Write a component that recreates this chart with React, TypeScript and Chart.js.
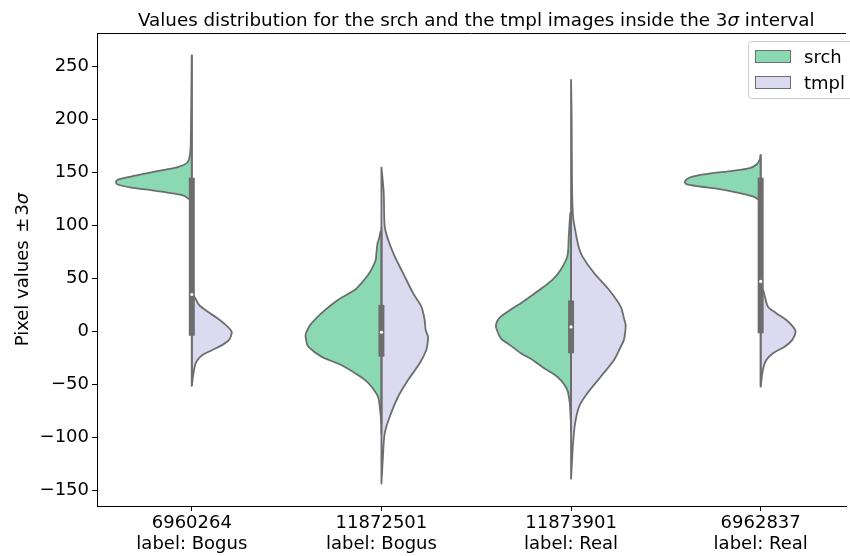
import { useEffect, useRef } from 'react';
import { Chart, registerables } from 'chart.js';

Chart.register(...registerables);

// Stamps on the x axis and the label of each one
const CATEGORIES = ['6960264', '11872501', '11873901', '6962837'];
const CLASS_LABELS = ['Bogus', 'Bogus', 'Real', 'Real'];

const Y_TICKS = [-150, -100, -50, 0, 50, 100, 150, 200, 250];

// Kernel density profiles, [pixel value, relative density], top to bottom
const SRCH_6960264 = [
  [261, 0], [180.8, 0.013], [168.3, 0.022], [159.4, 0.057], [155.1, 0.189], [152.5, 0.364],
  [149.4, 0.583], [146.2, 0.8], [143.1, 0.978], [141, 1.0], [138.7, 0.978], [135.8, 0.8],
  [133, 0.496], [130.6, 0.276], [128, 0.1], [124.9, 0.035],
];
const TMPL_6960264 = [
  [33, 0.031], [25.2, 0.096], [18.9, 0.206], [12.6, 0.338], [6.3, 0.447], [1.6, 0.513],
  [-1.5, 0.526], [-7.8, 0.491], [-12.5, 0.404], [-17.3, 0.272], [-22, 0.14], [-26.7, 0.075],
  [-31.4, 0.044], [-39.2, 0.022], [-51.2, 0],
];
const SRCH_11872501 = [
  [94.5, 0.01], [88, 0.03], [83.6, 0.05], [75, 0.065], [67.8, 0.075], [60, 0.12], [53.6, 0.175],
  [46, 0.26], [39.4, 0.35], [30, 0.57], [17.4, 0.79], [8, 0.92], [3.2, 0.965], [-3.1, 1.0],
  [-9, 0.99], [-14.2, 0.965], [-23.6, 0.79], [-31.5, 0.53], [-40.9, 0.31], [-46, 0.21],
  [-52, 0.13], [-61.4, 0.045], [-70.9, 0.022], [-86.6, 0],
];
const TMPL_11872501 = [
  [155.4, 0], [130.8, 0.03], [99.2, 0.043], [86.7, 0.088], [70.9, 0.175], [55.2, 0.285],
  [36.3, 0.417], [23.6, 0.526], [11.1, 0.57], [1.6, 0.583], [-4.7, 0.614], [-10, 0.61],
  [-17.3, 0.592], [-29.9, 0.504], [-45.7, 0.351], [-61.4, 0.22], [-80.3, 0.109], [-96, 0.043],
  [-115, 0.022], [-143.3, 0],
];
const SRCH_11873901 = [
  [111.9, 0.009], [90, 0.03], [70.9, 0.049], [58.3, 0.136], [50, 0.23], [42.5, 0.355],
  [35, 0.5], [26.8, 0.662], [20.5, 0.8], [12.7, 0.947], [6.3, 0.99], [2, 0.98], [-6.3, 0.925],
  [-13, 0.8], [-20.4, 0.662], [-27, 0.5], [-34.6, 0.355], [-40, 0.23], [-45.7, 0.136],
  [-55.1, 0.049], [-67.7, 0.017], [-83.5, 0.004],
];
const TMPL_11873901 = [
  [237.9, 0], [200, 0.008], [137, 0.013], [108.7, 0.026], [93, 0.062], [80, 0.1], [70.9, 0.149],
  [55.2, 0.303], [39.4, 0.5], [23.6, 0.654], [12.7, 0.697], [6.3, 0.72], [0, 0.715],
  [-7.8, 0.697], [-15, 0.65], [-26.7, 0.566], [-42.5, 0.391], [-58.2, 0.214], [-70.9, 0.105],
  [-86.6, 0.053], [-105.5, 0.026], [-121.3, 0.013], [-138.6, 0],
];
const SRCH_6962837 = [
  [167, 0], [162, 0.013], [157.3, 0.057], [154.2, 0.145], [151.6, 0.364], [148.5, 0.715],
  [145.3, 0.934], [141.5, 1.0], [139, 0.978], [136.8, 0.8], [134.3, 0.54], [130.6, 0.276],
  [127.4, 0.1], [124.9, 0.035],
];
const TMPL_6962837 = [
  [39.3, 0.031], [23.6, 0.096], [17.4, 0.206], [11, 0.338], [4.7, 0.425], [0, 0.46],
  [-7.8, 0.417], [-14.2, 0.316], [-20.4, 0.162], [-26.7, 0.075], [-33, 0.039], [-39.2, 0.022],
  [-51.9, 0],
];

const SRCH_PROFILES = [SRCH_6960264, SRCH_11872501, SRCH_11873901, SRCH_6962837];
const TMPL_PROFILES = [TMPL_6960264, TMPL_11872501, TMPL_11873901, TMPL_6962837];

// Inner box plot statistics of the pooled values
const Q1 = [-3.8, -23.6, -20.4, -1.5];
const MEDIAN = [35, -0.6, 4.4, 47.3];
const Q3 = [145, 25.2, 29.3, 145];
const WHISKER_LOW = [-51.3, -96.8, -95, -52];
const WHISKER_HIGH = [261, 98.4, 103.9, 167];

const FONT = "'DejaVu Sans', sans-serif";
const SRCH_COLOR = '#8bd9b3';
const TMPL_COLOR = '#dcdaf0';
const LINE_GREY = '#6d6d6d';
const HALF_WIDTH = 0.4;

// One half of a split violin as a closed outline in data units.
// The corners on the centre line are doubled so the smoothed curve keeps that edge straight.
function halfViolin(center: number, profile: number[][], side: number) {
  const top = profile[0][0];
  const bottom = profile[profile.length - 1][0];
  const edge = profile.map(([v, d]) => ({ x: center + side * d * HALF_WIDTH, y: v }));
  const t = { x: center, y: top };
  const b = { x: center, y: bottom };
  return [t, t, ...edge, b, b, t, t];
}

function formatTick(v: number) {
  return v < 0 ? '\u2212' + Math.abs(v) : String(v);
}

// Draws a run of text pieces [text, italic, gap after], centred on x = 0
function drawPieces(ctx: CanvasRenderingContext2D, pieces: [string, boolean, number][], size: number) {
  const fontOf = (it: boolean) => `${it ? 'italic ' : ''}${size}px ${FONT}`;
  let total = 0;
  const widths = pieces.map(([t, it, gap]) => {
    ctx.font = fontOf(it);
    const w = ctx.measureText(t).width + gap;
    total += w;
    return w;
  });
  let x = -total / 2;
  ctx.textAlign = 'left';
  ctx.textBaseline = 'alphabetic';
  pieces.forEach(([t, it], i) => {
    ctx.font = fontOf(it);
    ctx.fillText(t, x, 0);
    x += widths[i];
  });
}

const decorations = {
  id: 'decorations',
  afterDraw(chart: any) {
    const { ctx, chartArea, scales } = chart;
    ctx.save();
    // top spine
    ctx.strokeStyle = '#000';
    ctx.lineWidth = 1;
    ctx.beginPath();
    ctx.moveTo(chartArea.left, chartArea.top + 0.5);
    ctx.lineTo(chartArea.right, chartArea.top + 0.5);
    ctx.stroke();

    ctx.fillStyle = '#000';
    // title, centred on the axes
    ctx.save();
    ctx.translate(scales.x.getPixelForValue(1.5), 25.7);
    drawPieces(ctx, [
      ['Values distribution for the srch and the tmpl images inside the 3', false, 0],
      ['\u03c3', true, 0],
      [' interval', false, 0],
    ], 18.3);
    ctx.restore();

    // y axis title
    ctx.save();
    ctx.translate(28.3, (chartArea.top + chartArea.bottom) / 2);
    ctx.rotate(-Math.PI / 2);
    drawPieces(ctx, [
      ['Pixel values ', false, 2],
      ['\u00b1', false, 2],
      ['3', false, 0],
      ['\u03c3', true, 0],
    ], 18);
    ctx.restore();

    // legend
    const lx = 748.5;
    const ly = 41.5;
    ctx.fillStyle = 'rgba(255,255,255,0.8)';
    ctx.strokeStyle = '#cccccc';
    ctx.lineWidth = 1;
    ctx.beginPath();
    ctx.roundRect(lx, ly, 130, 57, 3);
    ctx.fill();
    ctx.stroke();
    const entries: [string, string][] = [['srch', SRCH_COLOR], ['tmpl', TMPL_COLOR]];
    entries.forEach(([name, color], i) => {
      const py = 50.5 + i * 26;
      ctx.fillStyle = color;
      ctx.fillRect(755.5, py, 35, 12);
      ctx.strokeStyle = LINE_GREY;
      ctx.lineWidth = 1;
      ctx.strokeRect(755.5, py, 35, 12);
      ctx.fillStyle = '#000';
      ctx.font = `18px ${FONT}`;
      ctx.textAlign = 'left';
      ctx.textBaseline = 'alphabetic';
      ctx.fillText(name, 804, 63.3 + i * 26);
    });
    ctx.restore();
  },
};

export default function App() {
  const canvasRef = useRef<HTMLCanvasElement>(null);

  useEffect(() => {
    const datasets: any[] = [];
    CATEGORIES.forEach((_, i) => {
      [
        [SRCH_PROFILES[i], -1, SRCH_COLOR, 'srch'],
        [TMPL_PROFILES[i], 1, TMPL_COLOR, 'tmpl'],
      ].forEach(([profile, side, color, name]: any) => {
        datasets.push({
          type: 'line',
          label: name,
          data: halfViolin(i, profile, side),
          borderColor: LINE_GREY,
          borderWidth: 1.8,
          borderJoinStyle: 'round',
          backgroundColor: color,
          fill: 'shape',
          pointRadius: 0,
          tension: 0.3,
          order: 3,
        });
      });
      datasets.push({
        type: 'line',
        data: [{ x: i, y: WHISKER_LOW[i] }, { x: i, y: WHISKER_HIGH[i] }],
        borderColor: LINE_GREY,
        borderWidth: 1.8,
        pointRadius: 0,
        fill: false,
        order: 2,
      });
      datasets.push({
        type: 'line',
        data: [{ x: i, y: Q1[i] }, { x: i, y: Q3[i] }],
        borderColor: LINE_GREY,
        borderWidth: 6,
        borderCapStyle: 'butt',
        pointRadius: 0,
        fill: false,
        order: 1,
      });
      datasets.push({
        type: 'scatter',
        data: [{ x: i, y: MEDIAN[i] }],
        backgroundColor: '#ffffff',
        borderWidth: 0,
        pointRadius: 1.6,
        order: 0,
      });
    });

    const tickFont = { family: FONT, size: 18 };
    const chart = new Chart(canvasRef.current!, {
      type: 'line',
      data: { datasets },
      options: {
        animation: false,
        responsive: false,
        devicePixelRatio: 1,
        layout: { padding: { top: 33, left: 0, right: 0, bottom: 0 } },
        plugins: { legend: { display: false }, tooltip: { enabled: false }, title: { display: false } },
        scales: {
          x: {
            type: 'linear',
            min: -0.5,
            max: 3.45,
            afterBuildTicks: (s: any) => {
              s.ticks = CATEGORIES.map((_, i) => ({ value: i }));
            },
            afterFit: (s: any) => {
              s.height = 50;
            },
            ticks: {
              callback: (v: any) => [CATEGORIES[v], 'label: ' + CLASS_LABELS[v]],
              font: { ...tickFont, lineHeight: 1.15 },
              color: '#000',
              maxRotation: 0,
              autoSkip: false,
              padding: 2,
            },
            grid: { display: true, drawOnChartArea: false, drawTicks: true, tickLength: 5, tickColor: '#000' },
            border: { display: true, color: '#000', width: 1 },
          },
          y: {
            type: 'linear',
            min: -164.4,
            max: 281.5,
            afterBuildTicks: (s: any) => {
              s.ticks = Y_TICKS.map((v) => ({ value: v }));
            },
            afterFit: (s: any) => {
              s.width = 97;
            },
            ticks: {
              callback: (v: any) => formatTick(v),
              font: tickFont,
              color: '#000',
              padding: 3,
            },
            grid: { display: true, drawOnChartArea: false, drawTicks: true, tickLength: 5, tickColor: '#000' },
            border: { display: true, color: '#000', width: 1 },
          },
        },
      },
      plugins: [decorations],
    });
    return () => chart.destroy();
  }, []);

  return (
    <div style={{ position: 'fixed', left: 0, top: 0, width: 850, height: 556, background: '#fff' }}>
      <canvas ref={canvasRef} width={850} height={556} style={{ display: 'block' }} />
    </div>
  );
}
